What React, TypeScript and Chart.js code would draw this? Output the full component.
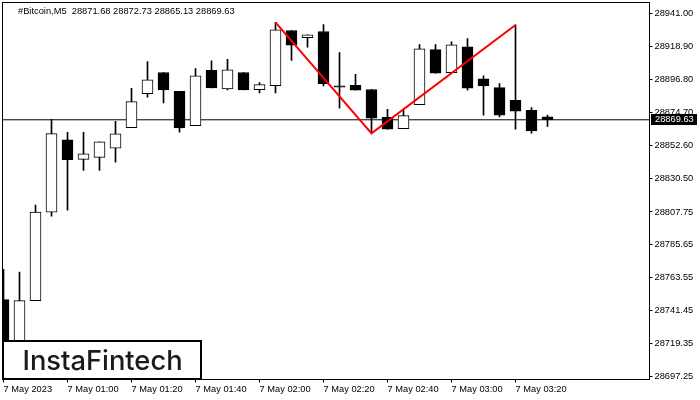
import { useEffect, useRef } from "react";
import { Chart, registerables } from "chart.js";

Chart.register(...registerables);

const opens = [
  28748.9, 28718.4, 28748.2, 28807.6, 28856.2, 28843.1, 28844.4, 28850.5, 28864.4, 28887.2, 28901.4, 28888.7,
  28865.6, 28902.8, 28890.4, 28901.4, 28889.8, 28892.5, 28929.6, 28924.7, 28928.9, 28892.5, 28892.7, 28890.0,
  28871.3, 28863.7, 28879.8, 28916.7, 28901.2, 28918.7, 28897.2, 28891.2, 28882.7, 28875.9, 28871.68,
];
const highs = [
  28769.3, 28767.3, 28812.3, 28869.9, 28861.2, 28861.2, 28854.8, 28868.6, 28890.7, 28908.8, 28901.4, 28888.7,
  28904.1, 28909.3, 28910.2, 28901.4, 28894.7, 28935.0, 28929.6, 28926.7, 28933.6, 28914.8, 28900.1, 28890.0,
  28876.6, 28876.0, 28920.2, 28920.2, 28922.0, 28924.2, 28899.2, 28893.9, 28933.4, 28877.8, 28872.73,
];
const lows = [
  28715.0, 28716.0, 28748.2, 28804.9, 28808.9, 28835.7, 28835.7, 28841.1, 28864.4, 28884.9, 28880.9, 28861.4,
  28865.6, 28891.0, 28889.7, 28889.7, 28887.6, 28887.6, 28909.5, 28918.4, 28892.3, 28877.5, 28889.6, 28860.5,
  28863.4, 28863.7, 28879.8, 28901.0, 28901.2, 28889.6, 28872.8, 28871.5, 28863.4, 28860.7, 28865.13,
];
const closes = [
  28718.0, 28748.2, 28807.6, 28860.3, 28842.8, 28846.8, 28854.8, 28860.2, 28881.8, 28896.5, 28889.7, 28864.2,
  28899.2, 28891.0, 28903.1, 28889.7, 28893.2, 28930.1, 28919.7, 28926.7, 28893.9, 28891.6, 28889.6, 28870.8,
  28863.4, 28872.4, 28917.3, 28901.0, 28920.0, 28890.9, 28892.3, 28872.8, 28875.5, 28862.1, 28869.63,
];

const priceTicks = [
  28941.0, 28918.9, 28896.8, 28874.7, 28852.6, 28830.5, 28807.75, 28785.65, 28763.55, 28741.45, 28719.35, 28697.25,
];
const timeTicks = [0, 4, 8, 12, 16, 20, 24, 28, 32];
const timeLabels = [
  "7 May 2023",
  "7 May 01:00",
  "7 May 01:20",
  "7 May 01:40",
  "7 May 02:00",
  "7 May 02:20",
  "7 May 02:40",
  "7 May 03:00",
  "7 May 03:20",
];

// the red double bottom pattern line
const patternIndex = [17, 23, 32];
const patternPrice = [28935.0, 28860.5, 28933.3];

const lastPrice = 28869.63;
const headerText = "#Bitcoin,M5  28871.68 28872.73 28865.13 28869.63";
const logoText = "InstaFintech";

const X_MIN = -0.0625;
const X_MAX = 40.375;
const TICK_FONT = { family: "'Liberation Sans', sans-serif", size: 9.3 };

const overlay = {
  id: "overlay",
  afterDraw(chart: Chart) {
    const { ctx, chartArea, scales } = chart;
    ctx.save();

    // frame
    ctx.strokeStyle = "#000";
    ctx.lineWidth = 1;
    ctx.strokeRect(chartArea.left, chartArea.top, chartArea.width, chartArea.height);

    // header
    ctx.fillStyle = "#000";
    ctx.font = "9.3px 'Liberation Sans', sans-serif";
    ctx.textAlign = "left";
    ctx.textBaseline = "alphabetic";
    ctx.fillText(headerText, 18, 14);

    // last price tag
    const y = scales.y.getPixelForValue(lastPrice);
    ctx.fillStyle = "#000";
    ctx.fillRect(651, Math.round(y) - 6, 46, 11);
    ctx.fillStyle = "#fff";
    ctx.textBaseline = "middle";
    ctx.fillText(lastPrice.toFixed(2), 655, y);

    // logo
    ctx.fillStyle = "#fff";
    ctx.fillRect(3, 341, 198, 38);
    ctx.lineWidth = 2;
    ctx.strokeRect(3, 341, 198, 38);
    ctx.fillStyle = "#1a1a1a";
    ctx.font = "500 27.3px Inter, sans-serif";
    ctx.textAlign = "center";
    ctx.textBaseline = "alphabetic";
    ctx.fillText(logoText, 102.5, 369.5);

    ctx.restore();
  },
};

export default function App() {
  const chartRef = useRef<HTMLCanvasElement>(null);

  useEffect(() => {
    document.body.style.margin = "0";
    if (!chartRef.current) return;

    const chart = new Chart(chartRef.current, {
      type: "bar",
      data: {
        datasets: [
          {
            type: "line",
            data: [
              { x: X_MIN, y: lastPrice },
              { x: X_MAX, y: lastPrice },
            ],
            borderColor: "#000",
            borderWidth: 1,
            pointRadius: 0,
            order: 4,
          },
          {
            data: highs.map((h, i) => ({ x: i, y: [lows[i], h] })),
            backgroundColor: "#000",
            borderWidth: 0,
            barThickness: 1,
            grouped: false,
            order: 3,
          },
          {
            data: opens.map((o, i) => ({ x: i, y: [o, closes[i]] })),
            backgroundColor: opens.map((o, i) => (closes[i] >= o ? "#fff" : "#000")),
            borderColor: "#000",
            borderWidth: 1,
            borderSkipped: false,
            barThickness: 11,
            grouped: false,
            order: 2,
          },
          {
            type: "line",
            data: patternIndex.map((x, i) => ({ x, y: patternPrice[i] })),
            borderColor: "#ff0000",
            borderWidth: 2,
            pointRadius: 0,
            tension: 0,
            order: 1,
          },
        ],
      } as any,
      options: {
        responsive: false,
        animation: false,
        layout: { padding: { left: 2.5, top: 2.5, right: 0, bottom: 0 } },
        plugins: { legend: { display: false }, tooltip: { enabled: false } },
        scales: {
          x: {
            type: "linear",
            offset: false,
            min: X_MIN,
            max: X_MAX,
            afterFit: (scale: any) => {
              scale.height = 20.5;
              scale.paddingLeft = 0;
              scale.paddingRight = 0;
            },
            afterBuildTicks: (scale: any) => {
              scale.ticks = timeTicks.map((value) => ({ value }));
            },
            grid: { offset: false, drawOnChartArea: false, tickLength: 3, tickColor: "#000" },
            border: { display: false },
            ticks: {
              autoSkip: false,
              maxRotation: 0,
              align: "start",
              padding: 1,
              color: "#000",
              font: TICK_FONT,
              callback: (value: any) => timeLabels[timeTicks.indexOf(value)],
            },
          },
          y: {
            type: "linear",
            position: "right",
            min: 28695.24,
            max: 28948.39,
            afterFit: (scale: any) => {
              scale.width = 50.5;
              scale.paddingTop = 0;
              scale.paddingBottom = 0;
            },
            afterBuildTicks: (scale: any) => {
              scale.ticks = priceTicks.map((value) => ({ value }));
            },
            grid: { drawOnChartArea: false, tickLength: 3, tickColor: "#000" },
            border: { display: false },
            ticks: {
              autoSkip: false,
              padding: 2,
              color: "#000",
              font: TICK_FONT,
              callback: (value: any) => Number(value).toFixed(2),
            },
          },
        },
      },
      plugins: [overlay],
    });

    return () => chart.destroy();
  }, []);

  return <canvas ref={chartRef} width={700} height={400} style={{ display: "block" }}></canvas>;
}
